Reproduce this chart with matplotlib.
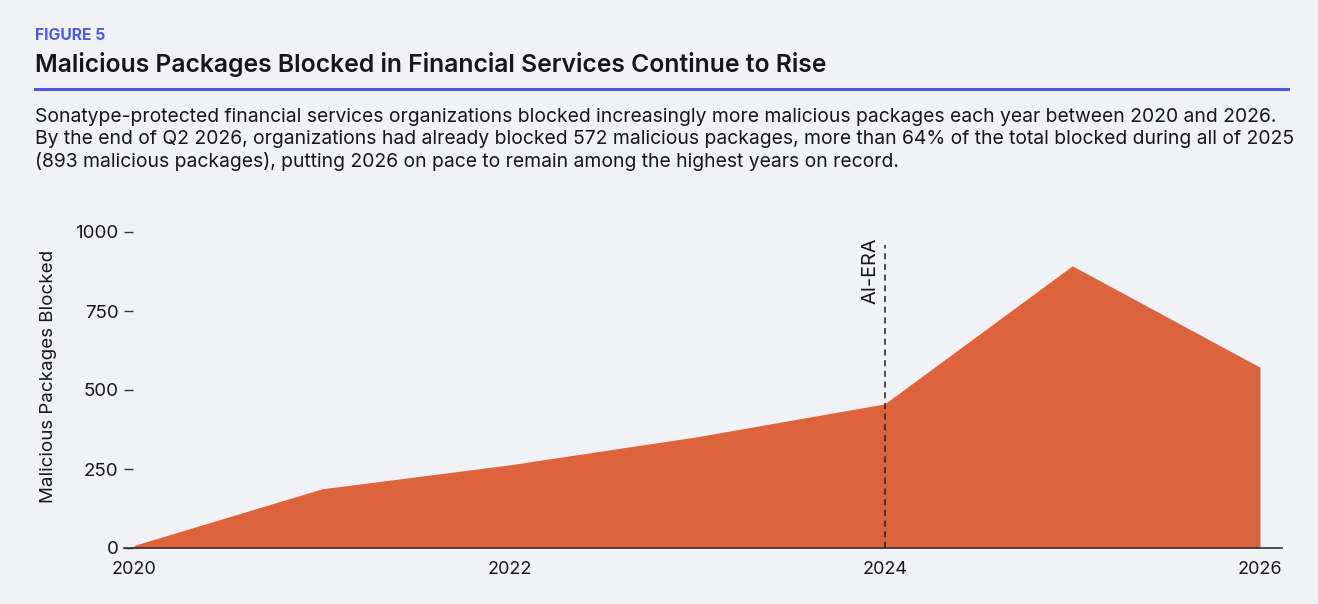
import matplotlib
matplotlib.use("Agg")
import matplotlib.pyplot as plt

# ---- data ----
years = [2020, 2021, 2022, 2023, 2024, 2025, 2026]
blocked = [8, 187, 263, 352, 456, 893, 572]
x_tick_years = [2020, 2022, 2024, 2026]
y_ticks = [0, 250, 500, 750, 1000]
ai_era_year = 2024
ai_era_top = 960

figure_label = "FIGURE 5"
title = "Malicious Packages Blocked in Financial Services Continue to Rise"
body_lines = [
    "Sonatype-protected financial services organizations blocked increasingly more malicious packages each year between 2020 and 2026.",
    "By the end of Q2 2026, organizations had already blocked 572 malicious packages, more than 64% of the total blocked during all of 2025",
    "(893 malicious packages), putting 2026 on pace to remain among the highest years on record.",
]
y_label = "Malicious Packages Blocked"

# ---- style ----
BG = "#F1F2F6"
FILL = "#DC633B"
BLUE = "#4F58E6"
INK = "#17171B"
FONT = ["Inter", "DejaVu Sans"]
plt.rcParams["font.family"] = FONT

W, H = 1318, 604
fig = plt.figure(figsize=(W / 100, H / 100), dpi=100, facecolor=BG)

def fx(px):
    return px / W

def fy(py):
    return 1 - py / H

# header
fig.text(fx(35), fy(40), figure_label, color=BLUE, fontsize=11.3, fontweight="bold",
         va="baseline", ha="left")
fig.text(fx(35), fy(72), title, color=INK, fontsize=17.8, fontweight="semibold",
         va="baseline", ha="left")
fig.add_artist(plt.Line2D([fx(35), fx(1288)], [fy(89), fy(89)], color=BLUE, lw=2.2))
for i, line in enumerate(body_lines):
    fig.text(fx(35), fy(122 + 22.5 * i), line, color=INK, fontsize=13.9,
             va="baseline", ha="left")

# axes
x_left_px, x_right_px = 124, 1282
y_bottom_px, y_top_px = 548, 232
x2020_px, x2026_px = 134, 1260
ax = fig.add_axes([fx(x_left_px), fy(y_bottom_px), fx(x_right_px - x_left_px),
                   (y_bottom_px - y_top_px) / H])
ax.set_facecolor(BG)
px_per_year = (x2026_px - x2020_px) / 6
ax.set_xlim(2020 - (x2020_px - x_left_px) / px_per_year,
            2026 + (x_right_px - x2026_px) / px_per_year)
ax.set_ylim(0, 1000)

ax.fill_between(years, blocked, 0, color=FILL, lw=0, zorder=1)
ax.plot([ai_era_year, ai_era_year], [0, ai_era_top], color="#222222", lw=1.1,
        linestyle=(0, (4, 3)), zorder=3)
ax.text(ai_era_year - 0.025, ai_era_top + 22, "AI-ERA", rotation=90, ha="right", va="top",
        fontsize=14.3, color=INK)

for s in ["top", "right", "left"]:
    ax.spines[s].set_visible(False)
ax.spines["bottom"].set_color("#333333")
ax.spines["bottom"].set_linewidth(1.2)
ax.spines["bottom"].set_zorder(4)

ax.set_xticks(x_tick_years)
ax.set_xticklabels([str(y) for y in x_tick_years])
ax.set_yticks(y_ticks)
ax.set_yticklabels([str(v) for v in y_ticks])
ax.tick_params(axis="x", length=0, pad=9, labelsize=13, labelcolor=INK)
ax.tick_params(axis="y", direction="in", length=6.5, width=1, color="#333333",
               pad=4, labelsize=13.5, labelcolor=INK)

fig.text(fx(49), fy(376), y_label, rotation=90, ha="center", va="center",
         fontsize=13.5, color=INK)

fig.savefig("out.png", dpi=100, facecolor=BG)
